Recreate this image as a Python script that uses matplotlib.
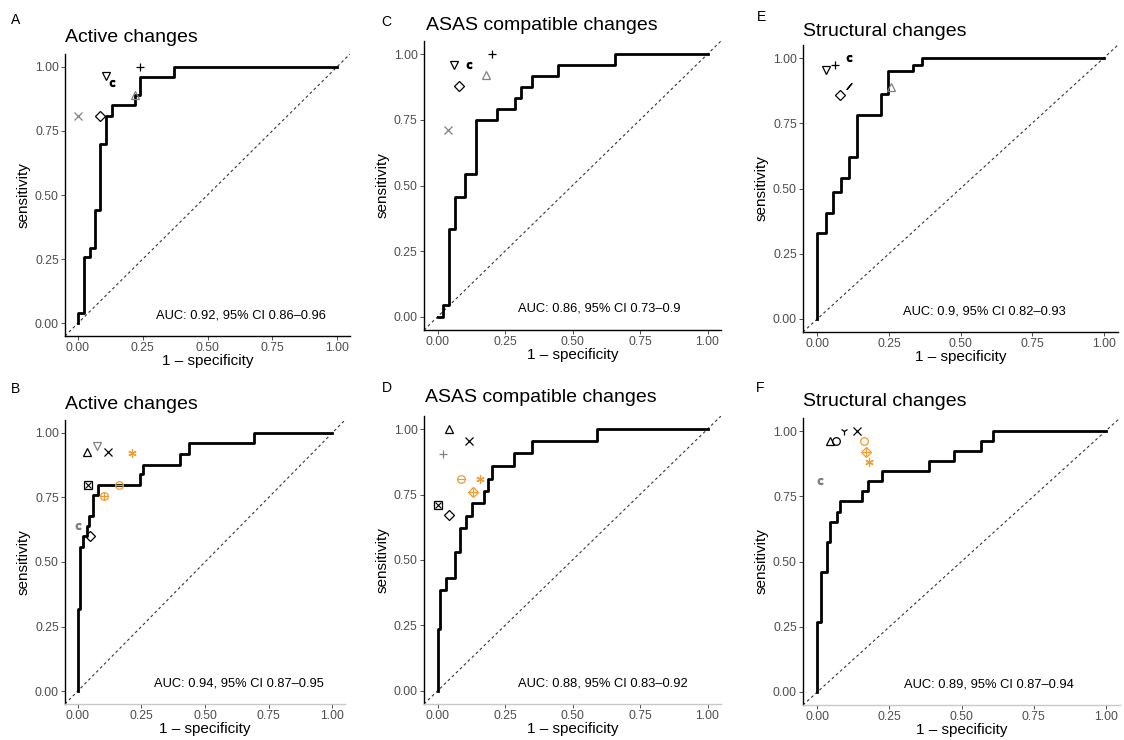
import matplotlib
matplotlib.use("Agg")
import matplotlib.pyplot as plt

plt.rcParams['font.family'] = ['Liberation Sans', 'DejaVu Sans']

ORANGE = '#f39a2b'

# ROC step curves (1 - specificity, sensitivity), drawn with steps-post
fpr_A = [0, 0, 0.022, 0.045, 0.067, 0.086, 0.109, 0.131, 0.219, 0.238, 0.369, 1.0]
tpr_A = [0, 0.04, 0.26, 0.295, 0.44, 0.70, 0.81, 0.85, 0.89, 0.96, 1.0, 1.0]

fpr_C = [0, 0.021, 0.043, 0.065, 0.10, 0.142, 0.222, 0.288, 0.309, 0.349, 0.448, 0.657, 1.0]
tpr_C = [0, 0.044, 0.333, 0.457, 0.544, 0.75, 0.79, 0.832, 0.874, 0.915, 0.957, 1.0, 1.0]

fpr_E = [0, 0, 0.029, 0.056, 0.084, 0.11, 0.14, 0.223, 0.248, 0.335, 0.364, 1.0]
tpr_E = [0, 0.33, 0.406, 0.487, 0.54, 0.62, 0.783, 0.863, 0.949, 0.972, 1.0, 1.0]

fpr_B = [0, 0, 0.009, 0.02, 0.035, 0.046, 0.059, 0.078, 0.244, 0.257, 0.40, 0.437, 0.694, 1.0]
tpr_B = [0, 0.317, 0.56, 0.60, 0.64, 0.68, 0.76, 0.80, 0.84, 0.877, 0.92, 0.959, 1.0, 1.0]

fpr_D = [0, 0, 0.011, 0.033, 0.064, 0.085, 0.107, 0.126, 0.171, 0.187, 0.202, 0.283, 0.35, 0.591, 1.0]
tpr_D = [0, 0.238, 0.385, 0.433, 0.529, 0.623, 0.669, 0.716, 0.764, 0.811, 0.859, 0.907, 0.955, 1.0, 1.0]

fpr_F = [0, 0, 0.012, 0.035, 0.044, 0.067, 0.077, 0.156, 0.177, 0.225, 0.387, 0.474, 0.566, 0.61, 1.0]
tpr_F = [0, 0.269, 0.46, 0.575, 0.652, 0.69, 0.731, 0.77, 0.808, 0.847, 0.886, 0.925, 0.963, 1.0, 1.0]

# reader / method points: x, y, marker, colour
pts_A_x = [0.0, 0.086, 0.11, 0.13, 0.24, 0.219]
pts_A_y = [0.81, 0.81, 0.965, 0.935, 1.0, 0.89]
pts_A_m = ['x', 'D', 'v', 'c', '+', '^']
pts_A_c = ['grey', 'k', 'k', 'k', 'k', 'grey']

pts_C_x = [0.062, 0.117, 0.20, 0.18, 0.08, 0.04]
pts_C_y = [0.957, 0.96, 1.0, 0.92, 0.877, 0.71]
pts_C_m = ['v', 'c', '+', '^', 'D', 'x']
pts_C_c = ['k', 'k', 'k', 'grey', 'k', 'grey']

pts_E_x = [0.03, 0.06, 0.11, 0.08, 0.11, 0.256]
pts_E_y = [0.955, 0.975, 1.0, 0.86, 0.894, 0.89]
pts_E_m = ['v', '+', 'c', 'D', '/', '^']
pts_E_c = ['k', 'k', 'k', 'k', 'k', 'grey']

pts_B_x = [0.038, 0.074, 0.12, 0.215, 0.042, 0.103, 0.163, 0.003, 0.05]
pts_B_y = [0.925, 0.95, 0.925, 0.922, 0.80, 0.757, 0.80, 0.64, 0.60]
pts_B_m = ['^', 'v', 'x', '*', 'sx', 'o+', 'o-', 'c', 'D']
pts_B_c = ['k', 'grey', 'k', ORANGE, 'k', ORANGE, ORANGE, 'grey', 'k']

pts_D_x = [0.042, 0.116, 0.021, 0.086, 0.156, 0.132, 0.0, 0.042]
pts_D_y = [1.0, 0.955, 0.904, 0.81, 0.81, 0.76, 0.71, 0.67]
pts_D_m = ['^', 'x', '+', 'o-', '*', 'D+', 'sx', 'D']
pts_D_c = ['k', 'k', 'grey', ORANGE, ORANGE, ORANGE, 'k', 'k']

pts_F_x = [0.044, 0.064, 0.092, 0.139, 0.16, 0.168, 0.179, 0.009]
pts_F_y = [0.96, 0.96, 1.0, 1.0, 0.96, 0.92, 0.88, 0.81]
pts_F_m = ['^', 'o', '1', 'x', 'o', 'D+', '*', 'c']
pts_F_c = ['k', 'k', 'k', 'k', ORANGE, ORANGE, ORANGE, 'grey']

titles = ['Active changes', 'ASAS compatible changes', 'Structural changes',
          'Active changes', 'ASAS compatible changes', 'Structural changes']
letters = ['A', 'C', 'E', 'B', 'D', 'F']
auc_labels = ['AUC: 0.92, 95% CI 0.86\u20130.96', 'AUC: 0.86, 95% CI 0.73\u20130.9',
              'AUC: 0.9, 95% CI 0.82\u20130.93', 'AUC: 0.94, 95% CI 0.87\u20130.95',
              'AUC: 0.88, 95% CI 0.83\u20130.92', 'AUC: 0.89, 95% CI 0.87\u20130.94']

curves = [(fpr_A, tpr_A), (fpr_C, tpr_C), (fpr_E, tpr_E),
          (fpr_B, tpr_B), (fpr_D, tpr_D), (fpr_F, tpr_F)]
points = [(pts_A_x, pts_A_y, pts_A_m, pts_A_c), (pts_C_x, pts_C_y, pts_C_m, pts_C_c),
          (pts_E_x, pts_E_y, pts_E_m, pts_E_c), (pts_B_x, pts_B_y, pts_B_m, pts_B_c),
          (pts_D_x, pts_D_y, pts_D_m, pts_D_c), (pts_F_x, pts_F_y, pts_F_m, pts_F_c)]

W, H = 1124, 740
# panel boxes in pixels: left, top, width, height
boxes = [(65, 54, 285, 282), (424, 41, 297, 289), (803, 45, 315, 287),
         (65, 420, 280, 284), (424, 416, 297, 288), (803, 418, 317, 287)]
title_pos = [(65, 38), (426, 25), (803, 31), (65, 405), (425, 398), (803, 402)]
letter_pos = [(11, 20), (381, 22), (757, 17), (11, 389), (382, 388), (756, 388)]

# composite shapes: outline marker + overlay marker
combo = {'sx': ('s', 'x'), 'o+': ('o', '+'), 'o-': ('o', '_'), 'D+': ('D', '+')}


def draw_point(ax, x, y, m, c):
    if m in combo:
        base, over = combo[m]
        ax.plot(x, y, marker=base, color=c, ms=5.5 if base != 'D' else 5,
                mfc='none', mew=0.9, ls='none')
        ax.plot(x, y, marker=over, color=c, ms=5.5 if over != 'x' else 4.5,
                mew=0.8, ls='none')
    elif m == 'c':
        ax.plot(x, y, marker=r'$\mathrm{c}$', color=c, ms=4.2, ls='none')
    elif m == '/':
        ax.plot(x, y, marker=(2, 2, -40), color=c, ms=6, mew=0.9, ls='none')
    elif m == '*':
        ax.plot(x, y, marker=(6, 2, 0), color=c, ms=6, mew=0.9, ls='none')
    else:
        ax.plot(x, y, marker=m, color=c, ms=5.5 if m != 'D' else 5,
                mfc='none', mew=0.9, ls='none')


fig = plt.figure(figsize=(W / 100, H / 100), dpi=100)

for i in range(6):
    l, t, w, h = boxes[i]
    ax = fig.add_axes([l / W, 1 - (t + h) / H, w / W, h / H])
    ax.set_xlim(-0.05, 1.05)
    ax.set_ylim(-0.05, 1.05)

    ax.axline((0, 0), slope=1, color='#333333', lw=0.8, ls=(0, (2.5, 2.5)))
    fx, fy = curves[i]
    ax.plot(fx, fy, drawstyle='steps-post', color='black', lw=2.0)

    px, py, pm, pc = points[i]
    for x, y, m, c in zip(px, py, pm, pc):
        draw_point(ax, x, y, m, c)

    ax.text(0.3, 0.03, auc_labels[i], fontsize=9.3, ha='left', va='center')

    for s in ['top', 'right']:
        ax.spines[s].set_visible(False)
    ax.spines['left'].set_linewidth(1.0)
    ax.spines['bottom'].set_linewidth(1.0)
    if i >= 3:
        ax.spines['bottom'].set_color('#c8c8c8')

    ticks = [0, 0.25, 0.5, 0.75, 1.0]
    ax.set_xticks(ticks)
    ax.set_yticks(ticks)
    ax.set_xticklabels(['0.00', '0.25', '0.50', '0.75', '1.00'])
    ax.set_yticklabels(['0.00', '0.25', '0.50', '0.75', '1.00'])
    ax.tick_params(length=3, width=0.6, color='#333333', pad=1.5,
                   labelsize=8.7, labelcolor='#4d4d4d')
    ax.set_xlabel('1 \u2013 specificity', fontsize=11, labelpad=0)
    ax.set_ylabel('sensitivity', fontsize=11, labelpad=3)

    tx, ty = title_pos[i]
    fig.text(tx / W, 1 - ty / H, titles[i], fontsize=14, ha='left', va='center')
    lx, ly = letter_pos[i]
    fig.text(lx / W, 1 - ly / H, letters[i], fontsize=10, ha='left', va='center')

fig.savefig('out.png', dpi=100)
